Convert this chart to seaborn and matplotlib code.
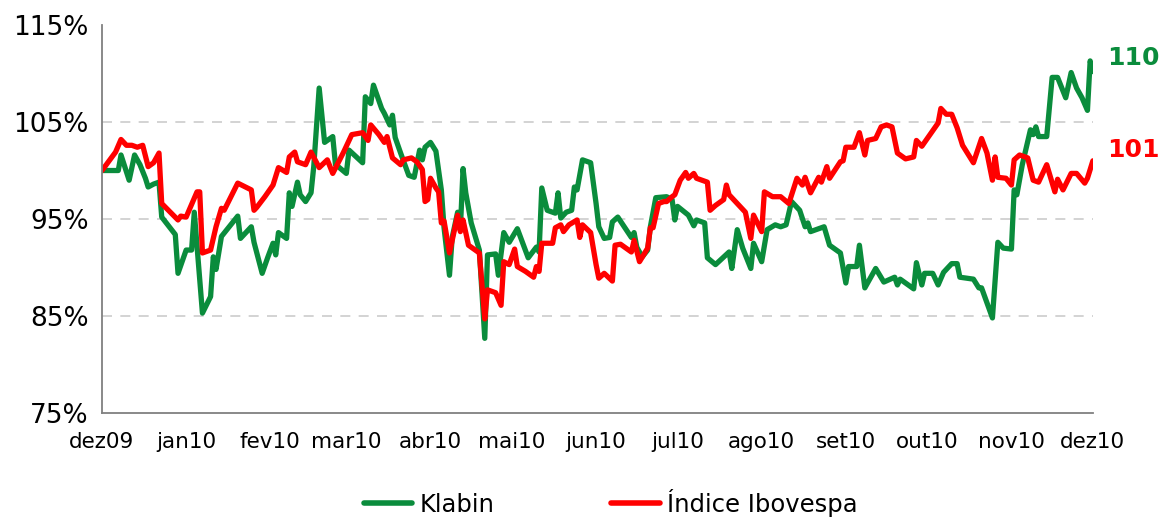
import pandas as pd
import matplotlib
matplotlib.use("Agg")
import matplotlib.pyplot as plt
import seaborn as sns

# dias desde 01/12/2009 e valor (%)
klabin_days = [0, 6, 7, 10, 12, 14, 16, 17, 19, 21, 22, 27, 28, 31, 33, 34, 37, 40, 41, 42,
               44, 50, 51, 55, 56, 59, 61, 63, 64, 65, 68, 69, 70, 72, 73, 75, 77, 78, 80, 82,
               85, 86, 87, 90, 91, 96, 97, 99, 100, 103, 104, 106, 107, 108, 110, 113, 115, 117, 118, 119,
               121, 123, 125, 126, 128, 129, 131, 132, 133, 134, 136, 139, 141, 142, 145, 146, 148, 150, 153, 157,
               160, 161, 162, 164, 167, 168, 169, 171, 173, 174, 175, 177, 180, 182, 183, 185, 187, 188, 190, 195,
               196, 197, 199, 201, 202, 204, 208, 210, 211, 212, 216, 218, 219, 222, 223, 226, 231, 232, 234, 236,
               239, 240, 243, 245, 248, 250, 252, 254, 257, 259, 260, 261, 266, 268, 272, 274, 275, 278, 279, 281,
               285, 288, 292, 293, 294, 299, 300, 302, 303, 306, 308, 310, 313, 315, 316, 321, 323, 324, 328, 330,
               332, 335, 336, 337, 339, 342, 343, 344, 345, 348, 350, 352, 355, 357, 359, 361, 363, 364, 365]
klabin_vals = [100.0, 100.0, 101.6, 99.0, 101.6, 100.6, 99.2, 98.3, 98.6, 98.8, 95.2, 93.4, 89.4, 91.8, 91.8, 95.7, 85.3, 87.0, 91.1, 89.8,
               93.2, 95.3, 93.0, 94.2, 92.6, 89.4, 91.0, 92.5, 91.3, 93.6, 93.0, 97.7, 96.3, 98.8, 97.5, 96.8, 97.7, 100.4, 108.5, 102.9,
               103.5, 100.6, 100.4, 99.7, 102.1, 100.8, 107.6, 106.9, 108.8, 106.4, 105.9, 104.7, 105.7, 103.4, 101.8, 99.5, 99.3, 102.1, 101.1, 102.4,
               102.9, 102.0, 98.0, 94.1, 89.2, 93.1, 95.7, 93.9, 100.2, 97.7, 94.6, 91.8, 82.7, 91.3, 91.4, 89.2, 93.6, 92.6, 94.0, 91.0,
               92.1, 91.6, 98.2, 95.9, 95.6, 97.7, 95.1, 95.7, 95.9, 98.3, 98.0, 101.1, 100.8, 96.6, 94.2, 93.0, 93.1, 94.7, 95.2, 93.1,
               93.6, 92.1, 91.1, 91.8, 94.2, 97.2, 97.3, 97.0, 94.9, 96.3, 95.4, 94.3, 94.9, 94.6, 91.0, 90.3, 91.6, 89.9, 93.9, 92.0,
               89.9, 92.5, 90.6, 93.9, 94.4, 94.2, 94.4, 96.8, 95.9, 94.2, 94.6, 93.7, 94.2, 92.3, 91.5, 88.4, 90.1, 90.1, 92.3, 87.9,
               89.9, 88.5, 89.0, 88.2, 88.8, 87.8, 90.5, 88.2, 89.4, 89.4, 88.2, 89.5, 90.4, 90.4, 89.0, 88.8, 87.9, 87.9, 84.8, 92.6,
               92.0, 91.9, 98.0, 97.5, 100.6, 104.2, 103.7, 104.5, 103.5, 103.5, 109.6, 109.6, 107.5, 110.1, 108.5, 107.5, 106.2, 111.3, 110.2]

ibov_days = [0, 5, 7, 9, 11, 13, 15, 17, 19, 21, 22, 28, 29, 31, 35, 36, 37, 40, 42, 44,
             45, 50, 55, 56, 57, 60, 63, 65, 68, 69, 71, 72, 75, 77, 80, 83, 85, 89, 92, 96,
             98, 99, 102, 104, 105, 107, 110, 111, 114, 116, 118, 119, 120, 121, 123, 124, 125, 126, 128, 131,
             132, 133, 135, 139, 141, 142, 145, 147, 148, 150, 152, 153, 156, 159, 160, 161, 162, 166, 167, 169,
             170, 172, 175, 176, 177, 180, 182, 183, 185, 188, 189, 191, 195, 196, 198, 201, 202, 203, 205, 207,
             208, 210, 211, 213, 215, 216, 218, 219, 223, 224, 226, 229, 230, 231, 234, 237, 239, 240, 243, 244,
             247, 250, 253, 256, 258, 259, 261, 264, 265, 267, 268, 272, 273, 274, 277, 279, 281, 282, 285, 287,
             289, 291, 293, 296, 299, 300, 302, 305, 308, 309, 311, 313, 315, 317, 321, 324, 326, 328, 329, 330,
             333, 335, 336, 338, 341, 343, 345, 348, 351, 352, 354, 357, 359, 362, 363, 365]
ibov_vals = [100.0, 101.9, 103.2, 102.6, 102.6, 102.4, 102.6, 100.4, 100.8, 101.8, 96.6, 94.9, 95.3, 95.2, 97.8, 97.8, 91.5, 91.8, 94.2, 96.1,
             95.9, 98.7, 98.0, 95.9, 96.2, 97.3, 98.5, 100.3, 99.8, 101.4, 101.9, 100.9, 100.6, 101.9, 100.3, 101.1, 99.7, 101.9, 103.7, 103.9,
             103.1, 104.7, 103.7, 102.9, 103.5, 101.3, 100.6, 101.1, 101.3, 100.9, 100.1, 96.8, 97.0, 99.2, 98.2, 97.8, 94.6, 94.8, 91.5, 95.4,
             93.7, 94.9, 92.3, 91.5, 84.7, 87.7, 87.4, 86.1, 90.6, 90.3, 91.9, 90.1, 89.6, 89.0, 90.1, 89.6, 92.5, 92.5, 94.1, 94.4,
             93.7, 94.4, 94.9, 93.1, 94.4, 93.6, 90.3, 88.9, 89.4, 88.6, 92.3, 92.4, 91.6, 92.8, 90.6, 92.0, 94.1, 94.1, 96.6, 96.8,
             96.8, 97.3, 97.5, 99.0, 99.8, 99.2, 99.7, 99.2, 98.8, 95.9, 96.4, 97.0, 98.5, 97.5, 96.6, 95.7, 93.0, 95.4, 93.7, 97.8,
             97.3, 97.3, 96.6, 99.2, 98.5, 99.3, 97.7, 99.3, 98.8, 100.4, 99.2, 100.9, 101.0, 102.4, 102.4, 103.9, 101.6, 103.1, 103.3, 104.5,
             104.7, 104.5, 101.8, 101.2, 101.4, 103.1, 102.5, 103.7, 104.9, 106.4, 105.8, 105.8, 104.4, 102.6, 100.8, 103.3, 101.8, 99.0, 101.4, 99.3,
             99.2, 98.5, 101.1, 101.6, 101.3, 99.0, 98.8, 100.6, 97.8, 99.1, 98.0, 99.7, 99.7, 98.7, 99.2, 101.0]

month_labels = ["dez09", "jan10", "fev10", "mar10", "abr10", "mai10", "jun10",
                "jul10", "ago10", "set10", "out10", "nov10", "dez10"]
series_names = ["Klabin", "Índice Ibovespa"]
end_labels = ["110", "101"]
colors = ["#0A8C3C", "#FF0000"]

start = pd.Timestamp("2009-12-01")
df = pd.concat([
    pd.DataFrame({"date": start + pd.to_timedelta(klabin_days, unit="D"),
                  "value": klabin_vals, "serie": series_names[0]}),
    pd.DataFrame({"date": start + pd.to_timedelta(ibov_days, unit="D"),
                  "value": ibov_vals, "serie": series_names[1]}),
])

sns.set_style("white")
plt.rcParams["font.family"] = ["DejaVu Sans"]
plt.rcParams["text.color"] = "black"
plt.rcParams["xtick.labelcolor"] = "black"
plt.rcParams["ytick.labelcolor"] = "black"

fig = plt.figure(figsize=(11.63, 5.18), dpi=100)
ax = fig.add_axes([0.0877, 0.2027, 0.852, 0.749])

sns.lineplot(data=df, x="date", y="value", hue="serie", palette=colors,
             linewidth=3.8, estimator=None, sort=True, ax=ax, legend=False)

ax.set_ylim(75, 115)
ax.set_yticks([75, 85, 95, 105, 115])
ax.set_yticklabels([f"{v}%" for v in [75, 85, 95, 105, 115]], fontsize=19)
ax.set_xlim(start, pd.Timestamp("2010-12-01"))
ax.set_xticks(pd.date_range("2009-12-01", "2010-12-01", freq="MS"))
ax.set_xticklabels(month_labels, fontsize=15.5)
ax.set_xlabel("")
ax.set_ylabel("")

for y in [85, 95, 105]:
    ax.axhline(y, color="#CCCCCC", lw=1.2, ls=(0, (6, 5)), zorder=0)

for s in ["top", "right"]:
    ax.spines[s].set_visible(False)
for s in ["left", "bottom"]:
    ax.spines[s].set_color("#808080")
    ax.spines[s].set_linewidth(1.3)
ax.tick_params(axis="both", direction="out", length=6, color="#808080", width=1.3,
               labelcolor="black")
ax.tick_params(axis="x", pad=8)

ax.text(1.014, 111.6, end_labels[0], transform=ax.get_yaxis_transform(),
        color=colors[0], fontsize=18, fontweight="bold", va="center", ha="left")
ax.text(1.014, 102.1, end_labels[1], transform=ax.get_yaxis_transform(),
        color=colors[1], fontsize=18, fontweight="bold", va="center", ha="left")

handles = [plt.Line2D([], [], color=c, lw=4) for c in colors]
fig.legend(handles, series_names, loc="lower center", bbox_to_anchor=(0.525, -0.04),
           ncol=2, frameon=False, fontsize=17.5, columnspacing=4.8, handlelength=2.0,
           handletextpad=0.3, labelcolor="black")

fig.savefig("out.png", dpi=100)
